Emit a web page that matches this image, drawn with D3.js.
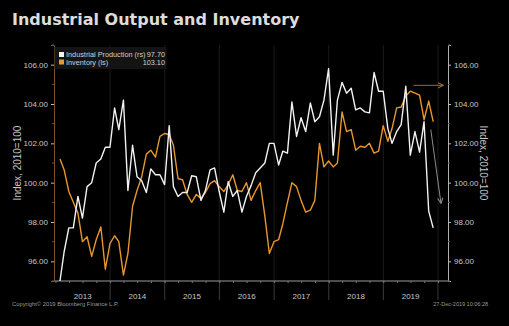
<!DOCTYPE html>
<html>
<head>
<meta charset="utf-8">
<script src="https://cdn.jsdelivr.net/npm/d3@7"></script>
<style>
  html, body { margin: 0; padding: 0; background: #000; }
  svg { display: block; }
  .axis text { font-family: "Liberation Sans", Arial, sans-serif; font-size: 8px; fill: #c8c8c8; }
</style>
</head>
<body>
<div id="viz"></div>
<script>
// month-end readings, Jan 2013 .. Nov 2019
var production = [95.0, 96.5, 97.7, 97.7, 99.3, 98.2, 99.8, 100.0, 101.0, 101.2, 101.8, 101.8,
  103.8, 102.7, 104.2, 99.6, 101.9, 100.3, 100.1, 99.5, 100.7, 100.4, 100.4, 99.9,
  102.9, 99.8, 99.3, 99.5, 99.5, 100.35, 100.3, 99.1, 99.6, 100.65, 100.75, 99.55,
  98.5, 100.05, 99.3, 99.6, 98.5, 99.3, 99.85, 100.5, 100.75, 101.0, 102.0, 102.0,
  100.9, 101.6, 101.5, 104.1, 102.35, 103.3, 102.6, 104.05, 103.1, 103.35, 104.2, 105.8,
  101.4, 104.2, 105.1, 104.55, 104.8, 103.7, 103.8, 103.6, 103.55, 105.6, 104.65, 104.65,
  102.75, 102.0, 102.6, 102.95, 104.9, 101.4, 102.6, 101.55, 103.1, 98.55, 97.7];

var inventory = [101.2, 100.65, 99.55, 99.0, 98.45, 97.0, 97.25, 96.25, 97.1, 97.75, 95.6, 96.9,
  97.3, 97.0, 95.3, 96.4, 98.8, 99.6, 100.3, 101.45, 101.65, 101.3, 102.35, 102.5,
  102.45, 101.9, 100.2, 100.15, 99.4, 99.0, 99.4, 99.2, 99.5, 99.95, 100.1, 99.8,
  99.55, 99.9, 100.4, 99.6, 99.55, 100.0, 99.1, 99.6, 100.0, 98.3, 96.4, 97.0,
  97.1, 97.9, 99.0, 100.0, 99.8, 99.1, 98.5, 98.6, 99.1, 102.0, 100.8, 101.1,
  100.8, 101.0, 103.6, 102.6, 102.7, 101.65, 101.85, 101.8, 102.0, 101.5, 101.6, 102.9,
  102.1, 102.75, 103.8, 103.85, 104.4, 104.65, 104.55, 104.45, 103.2, 104.15, 103.1];

var years = ['2013', '2014', '2015', '2016', '2017', '2018', '2019'];
var majorTicks = [96, 98, 100, 102, 104, 106];
var minorTicks = [95, 97, 99, 101, 103, 105, 107];
var legendRows = [
  { name: 'Industrial Production (rs)', last: '97.70', color: '#f2f2f2' },
  { name: 'Inventory (ls)', last: '103.10', color: '#e8962e' }
];
// annotation arrows drawn by the author
var invArrow = [[new Date(2019, 6, 21), 104.95], [new Date(2020, 1, 6), 104.95]];
var prodArrow = [[new Date(2019, 10, 14), 102.7], [new Date(2020, 0, 21), 98.95]];

var months = production.map(function(d, i) { return new Date(2013, i + 1, 0); });

var chart = { width: 509, height: 326, left: 54, right: 448, top: 45, bottom: 281 };

var svg = d3.select('#viz').append('svg')
  .attr('width', chart.width)
  .attr('height', chart.height)
  .style('background', '#000');

var x = d3.scaleTime()
  .domain([new Date(2012, 11, 22), new Date(2020, 2, 8)])
  .range([chart.left, chart.right]);

var yLeft = d3.scaleLinear().domain([95, 107]).range([chart.bottom, chart.top]);
var yRight = d3.scaleLinear().domain([95, 107]).range([chart.bottom, chart.top]);

svg.append('defs').selectAll('marker')
  .data([['arrInv', '#9c6a35'], ['arrProd', '#8c8c8c']])
  .enter().append('marker')
  .attr('id', function(d) { return d[0]; })
  .attr('viewBox', '0 0 8 8')
  .attr('refX', 7).attr('refY', 4)
  .attr('markerWidth', 7).attr('markerHeight', 7)
  .attr('markerUnits', 'userSpaceOnUse')
  .attr('orient', 'auto')
  .append('path')
  .attr('d', 'M1,1 L7,4 L1,7')
  .attr('fill', 'none')
  .attr('stroke', function(d) { return d[1]; })
  .attr('stroke-width', 1.2);

// year grid lines (faint) + separators under the axis
var yearStarts = years.slice(1).map(function(y) { return new Date(+y, 0, 1); }).concat([new Date(2020, 0, 1)]);
svg.append('g').selectAll('line')
  .data(yearStarts)
  .enter().append('line')
  .attr('x1', function(d) { return x(d); })
  .attr('x2', function(d) { return x(d); })
  .attr('y1', chart.top)
  .attr('y2', chart.bottom)
  .attr('stroke', '#1a1a1a');
svg.append('g').selectAll('line')
  .data(yearStarts)
  .enter().append('line')
  .attr('x1', function(d) { return x(d); })
  .attr('x2', function(d) { return x(d); })
  .attr('y1', chart.bottom)
  .attr('y2', chart.bottom + 19)
  .attr('stroke', '#3a3a3a');

// bottom axis line with quarter ticks
var xAxis = d3.axisBottom(x)
  .tickValues(d3.timeMonth.every(3).range(new Date(2013, 0, 1), new Date(2020, 2, 1)))
  .tickSize(2)
  .tickFormat('');
var gx = svg.append('g').attr('class', 'axis')
  .attr('transform', 'translate(0,' + chart.bottom + ')')
  .call(xAxis);
gx.select('.domain').attr('stroke', '#9a9a9a').attr('d', 'M' + chart.left + ',0H' + chart.right);
gx.selectAll('.tick line').attr('stroke', '#777');

svg.append('g').selectAll('text')
  .data(years)
  .enter().append('text')
  .attr('x', function(d) { return x(new Date(+d, 6, 2)); })
  .attr('y', chart.bottom + 18)
  .attr('text-anchor', 'middle')
  .attr('fill', '#c8c8c8')
  .style('font-family', '"Liberation Sans", Arial, sans-serif')
  .style('font-size', '8px')
  .text(function(d) { return d; });

// left axis (inventory)
var gl = svg.append('g').attr('class', 'axis')
  .attr('transform', 'translate(' + chart.left + ',0)')
  .call(d3.axisLeft(yLeft).tickValues(majorTicks).tickSize(3).tickFormat(d3.format('.2f')));
gl.select('.domain').attr('stroke', '#7a5424');
gl.selectAll('.tick line').attr('stroke', '#bbb');
gl.append('g').selectAll('line').data(minorTicks).enter().append('line')
  .attr('x1', 0).attr('x2', -2)
  .attr('y1', function(d) { return yLeft(d); }).attr('y2', function(d) { return yLeft(d); })
  .attr('stroke', '#555');

// right axis (production)
var gr = svg.append('g').attr('class', 'axis')
  .attr('transform', 'translate(' + chart.right + ',0)')
  .call(d3.axisRight(yRight).tickValues(majorTicks).tickSize(3).tickFormat(d3.format('.2f')));
gr.select('.domain').attr('stroke', '#b0b0b0');
gr.selectAll('.tick line').attr('stroke', '#bbb');
gr.append('g').selectAll('line').data(minorTicks).enter().append('line')
  .attr('x1', 0).attr('x2', 2)
  .attr('y1', function(d) { return yRight(d); }).attr('y2', function(d) { return yRight(d); })
  .attr('stroke', '#555');

// axis titles
svg.append('text')
  .attr('transform', 'translate(21,' + yLeft(101) + ') rotate(-90)')
  .attr('text-anchor', 'middle')
  .attr('fill', '#c8c8c8')
  .style('font-family', '"Liberation Sans", Arial, sans-serif')
  .style('font-size', '10px')
  .text('Index, 2010=100');
svg.append('text')
  .attr('transform', 'translate(480,' + yRight(101) + ') rotate(90)')
  .attr('text-anchor', 'middle')
  .attr('fill', '#c8c8c8')
  .style('font-family', '"Liberation Sans", Arial, sans-serif')
  .style('font-size', '10px')
  .text('Index, 2010=100');

// lines
var lineL = d3.line().x(function(d, i) { return x(months[i]); }).y(function(d) { return yLeft(d); });
var lineR = d3.line().x(function(d, i) { return x(months[i]); }).y(function(d) { return yRight(d); });

svg.append('path')
  .datum(inventory)
  .attr('fill', 'none')
  .attr('stroke', '#e8962e')
  .attr('stroke-width', 1.4)
  .attr('stroke-linejoin', 'round')
  .attr('d', lineL);

svg.append('path')
  .datum(production)
  .attr('fill', 'none')
  .attr('stroke', '#f2f2f2')
  .attr('stroke-width', 1.4)
  .attr('stroke-linejoin', 'round')
  .attr('d', lineR);

// arrows
var arrowLine = d3.line().x(function(d) { return x(d[0]); }).y(function(d) { return yRight(d[1]); });
svg.append('path').datum(invArrow)
  .attr('fill', 'none').attr('stroke', '#9c6a35').attr('stroke-width', 1)
  .attr('marker-end', 'url(#arrInv)')
  .attr('d', arrowLine);
svg.append('path').datum(prodArrow)
  .attr('fill', 'none').attr('stroke', '#8c8c8c').attr('stroke-width', 1)
  .attr('marker-end', 'url(#arrProd)')
  .attr('d', arrowLine);

// legend
var legend = svg.append('g').attr('id', 'legend');
legend.append('rect')
  .attr('x', chart.left + 0.5).attr('y', 47)
  .attr('width', 112).attr('height', 22)
  .attr('fill', '#141414');
var rows = legend.selectAll('g.row').data(legendRows).enter().append('g')
  .attr('class', 'row')
  .attr('transform', function(d, i) { return 'translate(0,' + (52 + i * 7.5) + ')'; });
rows.append('rect')
  .attr('x', 59).attr('y', 0).attr('width', 5).attr('height', 5)
  .attr('fill', function(d) { return d.color; });
rows.append('text')
  .attr('x', 66).attr('y', 5)
  .attr('fill', '#d0d0d0')
  .style('font-family', '"Liberation Sans", Arial, sans-serif')
  .style('font-size', '7.3px')
  .text(function(d) { return d.name; });
rows.append('text')
  .attr('x', 165).attr('y', 5)
  .attr('text-anchor', 'end')
  .attr('fill', '#d0d0d0')
  .style('font-family', '"Liberation Sans", Arial, sans-serif')
  .style('font-size', '7.3px')
  .text(function(d) { return d.last; });

// title + footer
svg.append('text')
  .attr('x', 12).attr('y', 25)
  .attr('fill', '#dcdcdc')
  .style('font-family', '"DejaVu Sans", Verdana, sans-serif')
  .style('font-weight', 'bold')
  .style('font-size', '16px')
  .text('Industrial Output and Inventory');

svg.append('text')
  .attr('x', 12).attr('y', 306)
  .attr('fill', '#9a9a9a')
  .style('font-family', '"Liberation Sans", Arial, sans-serif')
  .style('font-size', '5.8px')
  .text('Copyright\u00a9 2019 Bloomberg Finance L.P.');
svg.append('text')
  .attr('x', 488).attr('y', 306)
  .attr('text-anchor', 'end')
  .attr('fill', '#9a9a9a')
  .style('font-family', '"Liberation Sans", Arial, sans-serif')
  .style('font-size', '5.5px')
  .text('27-Dec-2019 10:06:28');
</script>
</body>
</html>
